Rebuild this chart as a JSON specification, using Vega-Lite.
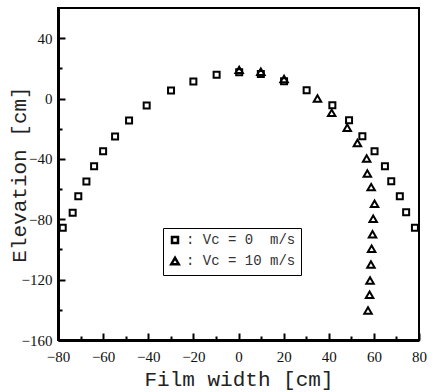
{
  "$schema": "https://vega.github.io/schema/vega-lite/v6.json",
  "width": 361,
  "height": 332,
  "autosize": {"type": "none"},
  "padding": {"left": 58, "top": 8, "right": 15, "bottom": 52},
  "background": "white",
  "config": {
    "view": {"stroke": "black", "strokeWidth": 2},
    "axis": {
      "domainColor": "black",
      "domainWidth": 3,
      "tickColor": "black",
      "tickWidth": 2,
      "grid": false,
      "labelFont": "Liberation Serif",
      "labelFontSize": 15,
      "labelColor": "#111",
      "titleFont": "Liberation Mono",
      "titleFontSize": 21,
      "titleFontWeight": "normal",
      "titleColor": "#222"
    }
  },
  "data": {
    "values": [
      {"x": -77.9, "y": -85.6, "s": "0"},
      {"x": -73.5, "y": -75.7, "s": "0"},
      {"x": -71.0, "y": -64.7, "s": "0"},
      {"x": -67.4, "y": -55.0, "s": "0"},
      {"x": -64.0, "y": -44.8, "s": "0"},
      {"x": -60.0, "y": -35.0, "s": "0"},
      {"x": -54.7, "y": -25.2, "s": "0"},
      {"x": -48.5, "y": -14.6, "s": "0"},
      {"x": -40.7, "y": -4.6, "s": "0"},
      {"x": -29.9, "y": 5.3, "s": "0"},
      {"x": -20.0, "y": 11.3, "s": "0"},
      {"x": -9.7, "y": 15.7, "s": "0"},
      {"x": 0.3, "y": 17.5, "s": "0"},
      {"x": 9.9, "y": 16.3, "s": "0"},
      {"x": 20.2, "y": 11.5, "s": "0"},
      {"x": 30.2, "y": 5.5, "s": "0"},
      {"x": 41.6, "y": -4.4, "s": "0"},
      {"x": 49.0, "y": -14.4, "s": "0"},
      {"x": 54.9, "y": -25.0, "s": "0"},
      {"x": 60.3, "y": -34.9, "s": "0"},
      {"x": 64.9, "y": -44.8, "s": "0"},
      {"x": 67.7, "y": -54.8, "s": "0"},
      {"x": 71.5, "y": -64.7, "s": "0"},
      {"x": 74.3, "y": -75.3, "s": "0"},
      {"x": 78.2, "y": -85.6, "s": "0"},
      {"x": 0.3, "y": 19.0, "s": "10"},
      {"x": 9.9, "y": 17.8, "s": "10"},
      {"x": 20.2, "y": 13.0, "s": "10"},
      {"x": 35.0, "y": 0.0, "s": "10"},
      {"x": 41.3, "y": -9.5, "s": "10"},
      {"x": 48.2, "y": -19.4, "s": "10"},
      {"x": 52.7, "y": -29.4, "s": "10"},
      {"x": 56.8, "y": -39.7, "s": "10"},
      {"x": 57.1, "y": -49.7, "s": "10"},
      {"x": 58.8, "y": -58.7, "s": "10"},
      {"x": 60.3, "y": -69.7, "s": "10"},
      {"x": 59.7, "y": -79.7, "s": "10"},
      {"x": 59.4, "y": -90.0, "s": "10"},
      {"x": 59.0, "y": -99.5, "s": "10"},
      {"x": 58.7, "y": -110.0, "s": "10"},
      {"x": 58.3, "y": -120.5, "s": "10"},
      {"x": 58.1, "y": -130.0, "s": "10"},
      {"x": 57.4, "y": -140.4, "s": "10"}
    ]
  },
  "mark": {"type": "point", "filled": false, "stroke": "black", "strokeWidth": 2, "opacity": 1},
  "encoding": {
    "x": {
      "field": "x",
      "type": "quantitative",
      "scale": {"domain": [-80, 80], "nice": false, "zero": false},
      "axis": {
        "title": "Film width [cm]",
        "values": [-80, -70, -60, -50, -40, -30, -20, -10, 0, 10, 20, 30, 40, 50, 60, 70, 80],
        "labelExpr": "datum.value % 20 === 0 ? datum.label : ''",
        "tickSize": {"condition": {"test": "datum.value % 20 === 0", "value": -7}, "value": -4},
        "labelPadding": 16,
        "titleY": 28,
        "labelFlush": false,
        "labelOverlap": false
      }
    },
    "y": {
      "field": "y",
      "type": "quantitative",
      "scale": {"domain": [-160, 60], "nice": false, "zero": false},
      "axis": {
        "title": "Elevation [cm]",
        "values": [-160, -140, -120, -100, -80, -60, -40, -20, 0, 20, 40],
        "labelExpr": "datum.value % 40 === 0 ? datum.label : ''",
        "tickSize": {"condition": {"test": "datum.value % 40 === 0", "value": -7}, "value": -4},
        "labelPadding": 13,
        "titleX": -29,
        "titleY": 166,
        "labelFlush": false,
        "labelOverlap": false
      }
    },
    "shape": {
      "field": "s",
      "type": "nominal",
      "scale": {"domain": ["0", "10"], "range": ["square", "triangle-up"]},
      "legend": {
        "title": null,
        "orient": "none",
        "legendX": 105,
        "legendY": 220,
        "direction": "vertical",
        "strokeColor": "black",
        "fillColor": "white",
        "padding": 5,
        "rowPadding": 4,
        "symbolStrokeColor": "black",
        "symbolStrokeWidth": 2.5,
        "symbolFillColor": "transparent",
        "labelFont": "Liberation Mono",
        "labelFontSize": 14,
        "labelColor": "#333",
        "labelOffset": 4,
        "labelExpr": "datum.value === '0' ? ': Vc = 0\u00a0\u00a0m/s' : ': Vc = 10 m/s'",
        "encode": {"legend": {"update": {"strokeWidth": {"value": 2}}}}
      }
    },
    "size": {
      "field": "s",
      "type": "nominal",
      "scale": {"domain": ["0", "10"], "range": [36, 56]}
    }
  }
}
